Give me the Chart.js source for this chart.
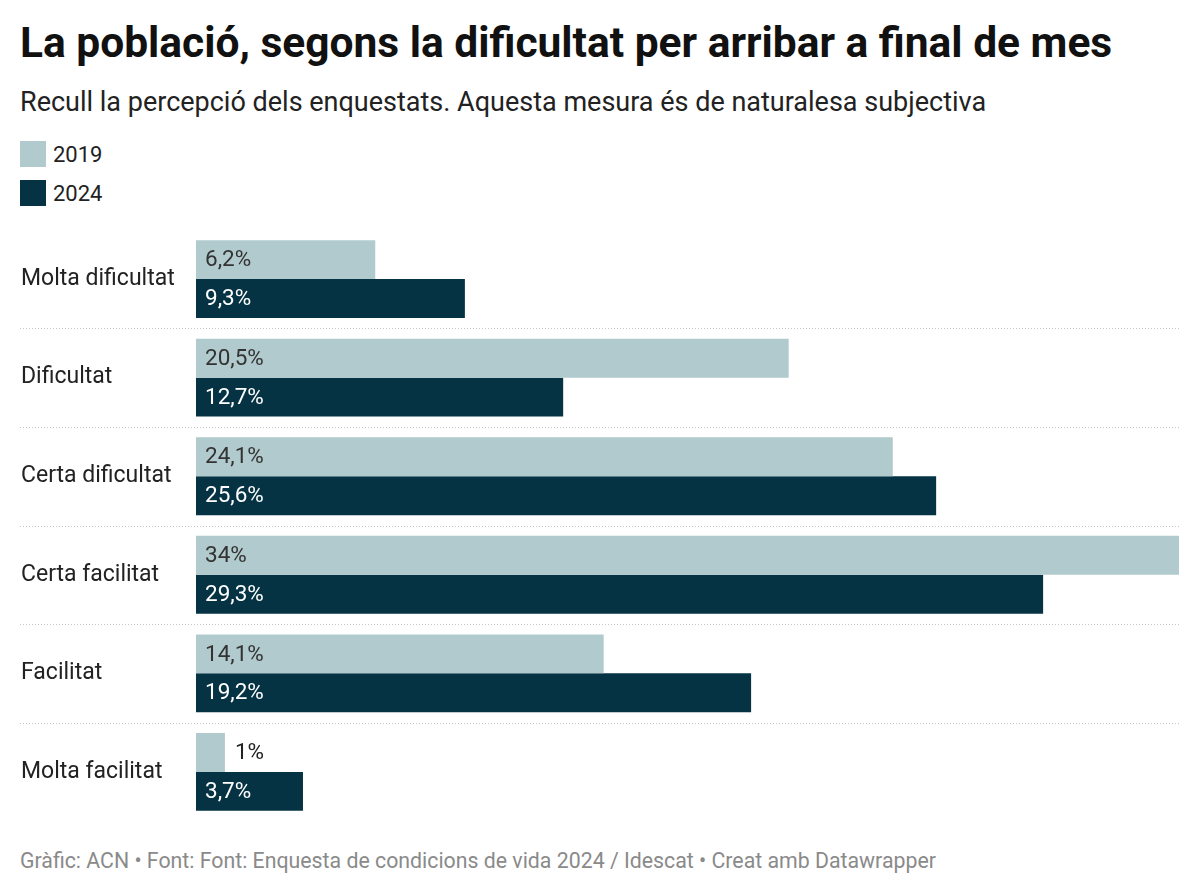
<!DOCTYPE html>
<html>
<head>
<meta charset="utf-8">
<script src="https://cdn.jsdelivr.net/npm/chart.js@4"></script>
<style>
  body { margin: 0; background: #fff; font-family: Roboto, sans-serif; width: 1200px; height: 894px; position: relative; overflow: hidden; }
  #title { position: absolute; left: 20px; top: 18px; font-size: 42.5px; font-weight: 700; color: #111; white-space: nowrap; }
  #subtitle { position: absolute; left: 20px; top: 86px; font-size: 27px; color: #222; white-space: nowrap; }
  .leg { position: absolute; left: 20px; font-size: 22px; color: #222; display: flex; align-items: center; }
  .leg span.sw { display: inline-block; width: 26px; height: 26px; margin-right: 7px; }
  #footer { position: absolute; left: 20px; top: 848px; font-size: 21.3px; color: #8a8a8a; white-space: nowrap; }
  #wrap { position: absolute; left: 0; top: 216px; width: 1200px; height: 619px; }
</style>
</head>
<body>
<div id="title">La població, segons la dificultat per arribar a final de mes</div>
<div id="subtitle">Recull la percepció dels enquestats. Aquesta mesura és de naturalesa subjectiva</div>
<div class="leg" style="top:141px"><span class="sw" style="background:#b1cacd"></span>2019</div>
<div class="leg" style="top:180px"><span class="sw" style="background:#053344"></span>2024</div>
<div id="wrap"><canvas id="myChart"></canvas></div>
<div id="footer">Gràfic: ACN • Font: Font: Enquesta de condicions de vida 2024 / Idescat • Creat amb Datawrapper</div>
<script>
var categories = ['Molta dificultat', 'Dificultat', 'Certa dificultat', 'Certa facilitat', 'Facilitat', 'Molta facilitat'];
var values2019 = [6.2, 20.5, 24.1, 34, 14.1, 1];
var values2024 = [9.3, 12.7, 25.6, 29.3, 19.2, 3.7];

function fmt(v) {
    return String(v).replace('.', ',') + '%';
}

var separators = {
    id: 'separators',
    beforeDatasetsDraw: function (chart) {
        var ctx = chart.ctx;
        var y = chart.scales.y;
        ctx.save();
        ctx.strokeStyle = '#c8c8c8';
        ctx.lineWidth = 1;
        ctx.setLineDash([1, 2]);
        for (var i = 0; i < categories.length - 1; i++) {
            var p = Math.round((y.getPixelForValue(i) + y.getPixelForValue(i + 1)) / 2) + 0.5;
            ctx.beginPath();
            ctx.moveTo(20, p);
            ctx.lineTo(chart.chartArea.right, p);
            ctx.stroke();
        }
        ctx.restore();
    }
};

var valueLabels = {
    id: 'valueLabels',
    afterDatasetsDraw: function (chart) {
        var ctx = chart.ctx;
        ctx.save();
        ctx.font = '22.5px Roboto';
        ctx.textBaseline = 'middle';
        ctx.textAlign = 'left';
        chart.data.datasets.forEach(function (ds, di) {
            chart.getDatasetMeta(di).data.forEach(function (bar, i) {
                var txt = fmt(ds.data[i]);
                var w = ctx.measureText(txt).width;
                var x = bar.base + 9;
                if (bar.x - bar.base < w + 20) {
                    x = bar.x + 10;
                    ctx.fillStyle = '#222';
                } else {
                    ctx.fillStyle = di === 0 ? '#333' : '#fff';
                }
                ctx.fillText(txt, x, bar.y + 1);
            });
        });
        ctx.restore();
    }
};

var ctx = document.getElementById('myChart').getContext('2d');
var myChart = new Chart(ctx, {
    type: 'bar',
    data: {
        labels: categories,
        datasets: [{
            label: '2019',
            data: values2019,
            backgroundColor: '#b1cacd',
            categoryPercentage: 0.79,
            barPercentage: 1.0
        }, {
            label: '2024',
            data: values2024,
            backgroundColor: '#053344',
            categoryPercentage: 0.79,
            barPercentage: 1.0
        }]
    },
    options: {
        indexAxis: 'y',
        responsive: true,
        maintainAspectRatio: false,
        animation: false,
        layout: { padding: { left: 21, right: 21, top: 0, bottom: 0 } },
        scales: {
            x: { display: false, min: 0, max: 34 },
            y: {
                grid: { display: false },
                border: { display: false },
                afterFit: function (scale) { scale.width = 175; },
                ticks: {
                    crossAlign: 'far',
                    padding: 0,
                    color: '#222',
                    font: { family: 'Roboto', size: 23 }
                }
            }
        },
        plugins: {
            tooltip: { enabled: false },
            legend: { display: false }
        }
    },
    plugins: [separators, valueLabels]
});
</script>
</body>
</html>
